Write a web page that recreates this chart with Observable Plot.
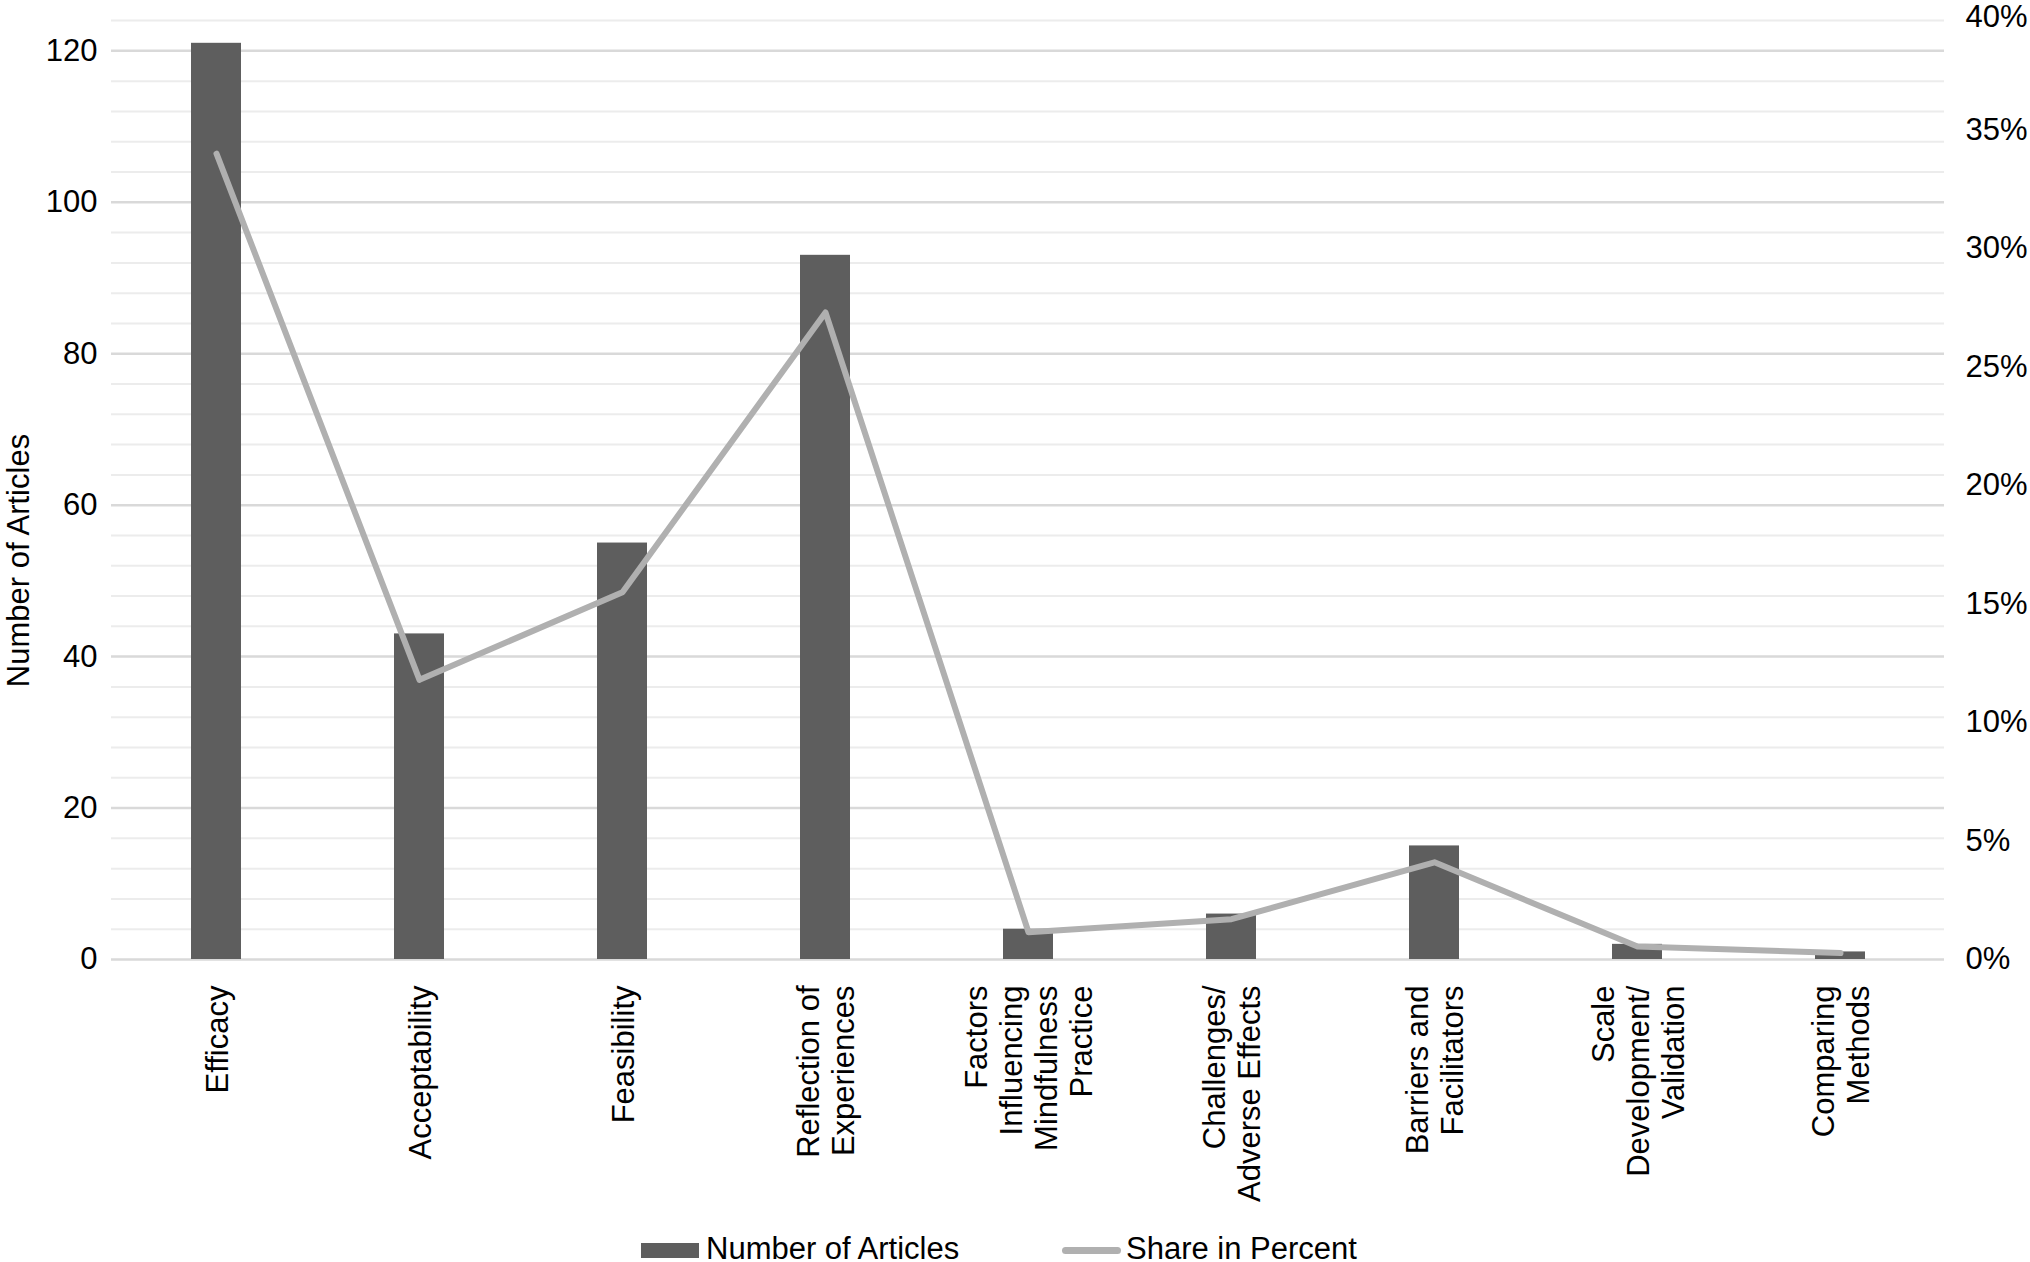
<!DOCTYPE html>
<html><head><meta charset="utf-8">
<script src="https://cdn.jsdelivr.net/npm/d3@7"></script>
<script src="https://cdn.jsdelivr.net/npm/@observablehq/plot@0.6"></script>
<style>
body{margin:0;background:#fff;font-family:"Liberation Sans",Arial,sans-serif;}
#legend{position:relative;height:34px;width:2030px;font-size:31px;color:#000;}
#legend .sw{position:absolute;}
#legend .tx{position:absolute;top:5px;line-height:31px;white-space:nowrap;}
</style></head><body>
<div id="chart"></div>
<div id="legend">
  <div class="sw" style="left:641px;top:15px;width:58px;height:15px;background:#5e5e5e;"></div>
  <div class="tx" style="left:706px;">Number of Articles</div>
  <div class="sw" style="left:1062px;top:19px;width:59px;height:7px;border-radius:4px;background:#b0b0b0;"></div>
  <div class="tx" style="left:1126px;">Share in Percent</div>
</div>
<script>
const categories = ["Efficacy","Acceptability","Feasibility","Reflection of\nExperiences","Factors\nInfluencing\nMindfulness\nPractice","Challenges/\nAdverse Effects","Barriers and\nFacilitators","Scale\nDevelopment/\nValidation","Comparing\nMethods"];
const articles = [121,43,55,93,4,6,15,2,1];
const sharePercent = [34.0,11.8,15.5,27.3,1.15,1.7,4.1,0.55,0.27];
const leftTicks = [0,20,40,60,80,100,120];
const minorGrid = [4,8,12,16,24,28,32,36,44,48,52,56,64,68,72,76,84,88,92,96,104,108,112,116,124];
const rightTicks = [0,5,10,15,20,25,30,35];
const rightTopTick = [40];
const countMax = 125.2, pctMax = 40;
const k = countMax / pctMax;

const data = categories.map((c, i) => ({cat: c, count: articles[i], share: sharePercent[i]}));
const fmt = d => Math.round(d / k) + "%";

const chart = Plot.plot({
  width: 2030,
  height: 1228,
  marginLeft: 111,
  marginRight: 86,
  marginTop: 11,
  marginBottom: 269,
  style: {fontFamily: '"Liberation Sans", Arial, sans-serif', fontSize: "31px", color: "#000", background: "#fff"},
  x: {domain: categories, paddingInner: 0.755, paddingOuter: 0.3775, label: null},
  y: {domain: [0, countMax], label: null},
  marks: [
    Plot.ruleY(minorGrid, {stroke: "#ececec", strokeWidth: 2}),
    Plot.ruleY(leftTicks, {stroke: "#d9d9d9", strokeWidth: 2.5}),
    Plot.barY(data, {x: "cat", y: "count", fill: "#5e5e5e"}),
    Plot.line(data, {x: "cat", y: d => d.share * k, stroke: "#b0b0b0", strokeWidth: 6, strokeLinecap: "round", strokeLinejoin: "round"}),
    Plot.axisX({tickSize: 0, tickRotate: -90, tickPadding: 26, label: null, lineHeight: 1.13, fontSize: 31}),
    Plot.axisY(leftTicks, {anchor: "left", tickSize: 0, tickPadding: 14, label: null, fontSize: 31}),
    Plot.axisY(rightTicks.map(p => p * k), {anchor: "right", tickSize: 0, tickPadding: 21, label: null, fontSize: 31, tickFormat: fmt}),
    Plot.axisY(rightTopTick.map(p => p * k), {anchor: "right", tickSize: 0, tickPadding: 21, label: null, fontSize: 31, tickFormat: fmt, dy: 6}),
    Plot.text(["Number of Articles"], {frameAnchor: "left", textAnchor: "middle", rotate: -90, dx: -92, dy: 75, fontSize: 31, fill: "#000"})
  ]
});
document.getElementById("chart").appendChild(chart);
</script>
</body></html>
